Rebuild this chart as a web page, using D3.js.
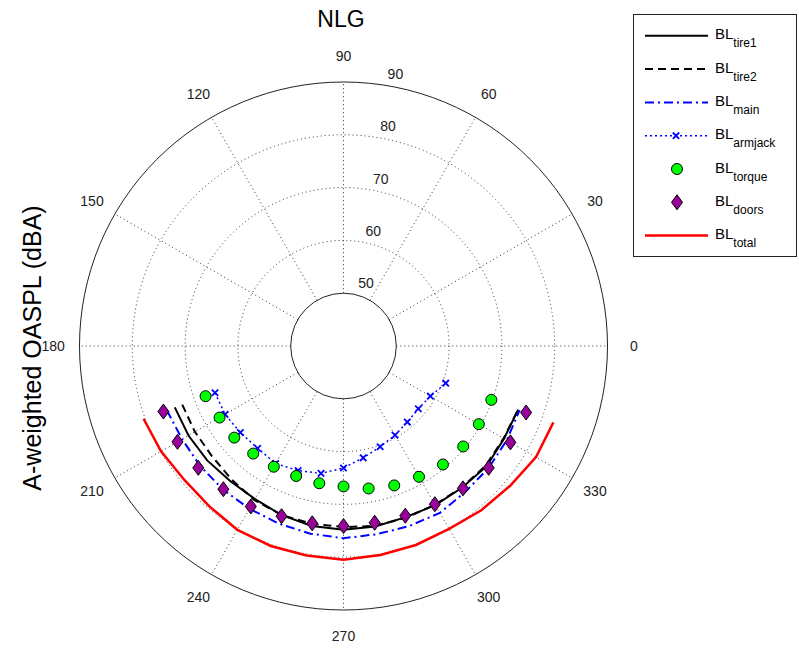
<!DOCTYPE html>
<html>
<head>
<meta charset="utf-8">
<script src="https://cdn.jsdelivr.net/npm/d3@7"></script>
<style>
  body { margin: 0; background: #fff; }
  svg { font-family: "Liberation Sans", Arial, sans-serif; }
</style>
</head>
<body>
<div id="chart"></div>
<script>
// directivity angles (deg) and levels (dBA)
const angles = [200, 210, 220, 230, 240, 250, 260, 270, 280, 290, 300, 310, 320, 330, 340];
const tire1 = [74.0, 73.9, 73.7, 73.4, 73.5, 74.1, 74.6, 74.8, 74.7, 74.5, 74.8, 75.0, 75.4, 75.1, 75.2];
const tire2 = [72.5, 72.5, 72.5, 73.0, 73.7, 74.1, 74.2, 74.3, 74.6, 74.6, 74.7, 74.9, 75.2, 75.0, 75.2];
const main = [75.6, 75.3, 75.4, 75.5, 75.6, 75.8, 76.1, 76.4, 76.2, 76.3, 76.5, 76.0, 75.9, 75.7, 75.5];
const armjack = [65.9, 65.9, 65.5, 65.3, 65.7, 65.1, 64.5, 63.1, 61.5, 60.3, 59.5, 58.8, 58.5, 59.0, 60.6];
const torque = [67.8, 67.1, 67.0, 66.6, 66.4, 66.2, 66.4, 66.6, 67.4, 68.1, 68.6, 69.3, 69.6, 69.6, 69.8];
const doors = [76.3, 76.3, 75.9, 75.4, 75.1, 74.3, 74.1, 74.1, 74.0, 74.2, 74.6, 75.2, 75.9, 76.5, 76.8];
const total = [80.3, 79.9, 79.4, 79.6, 80.2, 80.3, 80.3, 80.5, 80.2, 80.1, 80.0, 80.6, 81.2, 82.1, 82.3];

const ringTicks = [50, 60, 70, 80, 90];
const spokeTicks = [0, 30, 60, 90, 120, 150, 180, 210, 240, 270, 300, 330];
const legendNames = ["tire1", "tire2", "main", "armjack", "torque", "doors", "total"];

const width = 799, height = 653;
const cx = 343.5, cy = 346, R = 264;

const svg = d3.select("#chart").append("svg")
    .attr("width", width)
    .attr("height", height);

const r = d3.scaleLinear().domain([40, 90]).range([0, R]);
// math angle (ccw from +x) -> d3 radial angle (cw from 12 o'clock)
const toRad = (deg) => (90 - deg) * Math.PI / 180;
const px = (deg, rr) => rr * Math.cos(deg * Math.PI / 180);
const py = (deg, rr) => -rr * Math.sin(deg * Math.PI / 180);

const g = svg.append("g").attr("transform", `translate(${cx},${cy})`);

// outer circle
g.append("circle").attr("r", R).attr("fill", "#fff").attr("stroke", "#222").attr("stroke-width", 1);

// dotted rings
g.selectAll("circle.ring")
    .data(ringTicks.filter(v => v > 50 && v < 90))
    .join("circle")
    .attr("class", "ring")
    .attr("r", d => r(d))
    .attr("fill", "none")
    .attr("stroke", "#333")
    .attr("stroke-dasharray", "1,3");

// dotted spokes
g.selectAll("line.spoke")
    .data(spokeTicks)
    .join("line")
    .attr("class", "spoke")
    .attr("x1", d => px(d, r(50)))
    .attr("y1", d => py(d, r(50)))
    .attr("x2", d => px(d, R))
    .attr("y2", d => py(d, R))
    .attr("stroke", "#333")
    .attr("stroke-dasharray", "1,3");

// inner hole
g.append("circle").attr("r", r(50)).attr("fill", "#fff").attr("stroke", "#222");

// ring labels along 82 deg
g.selectAll("text.rlab")
    .data(ringTicks)
    .join("text")
    .attr("class", "rlab")
    .attr("x", d => px(82, r(d) + 2.6) + 7)
    .attr("y", d => py(82, r(d) + 2.6) - 3)
    .attr("font-size", 14)
    .attr("fill", "#222")
    .text(d => d);

// angle labels
g.selectAll("text.alab")
    .data(spokeTicks)
    .join("text")
    .attr("class", "alab")
    .attr("x", d => px(d, 1.1 * R))
    .attr("y", d => py(d, 1.1 * R))
    .attr("text-anchor", "middle")
    .attr("dy", "0.35em")
    .attr("font-size", 14)
    .attr("fill", "#222")
    .text(d => d);

const pts = (vals) => angles.map((a, i) => [a, vals[i]]);
const line = d3.lineRadial()
    .angle(d => toRad(d[0]))
    .radius(d => r(d[1]));

const series = [
    { vals: tire1, color: "#000", width: 2, dash: null },
    { vals: tire2, color: "#000", width: 2, dash: "8,5" },
    { vals: main, color: "#0000ff", width: 2, dash: "9,4,2,4" }
];
series.forEach(s => {
    g.append("path")
        .attr("d", line(pts(s.vals)))
        .attr("fill", "none")
        .attr("stroke", s.color)
        .attr("stroke-width", s.width)
        .attr("stroke-dasharray", s.dash);
});

// armjack: dotted blue with x markers
g.append("path")
    .attr("d", line(pts(armjack)))
    .attr("fill", "none")
    .attr("stroke", "#0000ff")
    .attr("stroke-width", 1.5)
    .attr("stroke-dasharray", "2,3");

const xMark = (sel, s) => sel.attr("d", `M${-s},${-s}L${s},${s}M${-s},${s}L${s},${-s}`)
    .attr("stroke", "#0000ff").attr("stroke-width", 1.8).attr("fill", "none");

g.selectAll("path.xm")
    .data(pts(armjack))
    .join("path")
    .attr("class", "xm")
    .attr("transform", d => `translate(${px(d[0], r(d[1]))},${py(d[0], r(d[1]))})`)
    .call(xMark, 3.2);

// torque: green circles
g.selectAll("circle.tq")
    .data(pts(torque))
    .join("circle")
    .attr("class", "tq")
    .attr("cx", d => px(d[0], r(d[1])))
    .attr("cy", d => py(d[0], r(d[1])))
    .attr("r", 5.5)
    .attr("fill", "#00ff00")
    .attr("stroke", "#000")
    .attr("stroke-width", 1);

// doors: purple diamonds
const diamond = "M0,-7.5L5.5,0L0,7.5L-5.5,0Z";
g.selectAll("path.dr")
    .data(pts(doors))
    .join("path")
    .attr("class", "dr")
    .attr("d", diamond)
    .attr("transform", d => `translate(${px(d[0], r(d[1]))},${py(d[0], r(d[1]))})`)
    .attr("fill", "#9a009a")
    .attr("stroke", "#000")
    .attr("stroke-width", 1);

// total: red
g.append("path")
    .attr("d", line(pts(total)))
    .attr("fill", "none")
    .attr("stroke", "#ff0000")
    .attr("stroke-width", 2.5);

// title
svg.append("text")
    .attr("x", 341).attr("y", 27)
    .attr("text-anchor", "middle")
    .attr("font-size", 23)
    .text("NLG");

// y label
svg.append("text")
    .attr("transform", "translate(41,348) rotate(-90)")
    .attr("text-anchor", "middle")
    .attr("font-size", 25)
    .text("A-weighted OASPL (dBA)");

// legend
const lg = svg.append("g");
lg.append("rect")
    .attr("x", 633.5).attr("y", 14.5)
    .attr("width", 163).attr("height", 242)
    .attr("fill", "#fff").attr("stroke", "#222");

legendNames.forEach((name, i) => {
    const by = 39.3 + 33.3 * i;
    const ly = by - 3.5;
    const row = lg.append("g");
    if (i < 3 || i === 6) {
        const s = i === 6 ? { color: "#ff0000", width: 2.5, dash: null } : series[i];
        row.append("line")
            .attr("x1", 645).attr("x2", 708).attr("y1", ly).attr("y2", ly)
            .attr("stroke", s.color).attr("stroke-width", s.width)
            .attr("stroke-dasharray", s.dash);
    } else if (i === 3) {
        row.append("line")
            .attr("x1", 645).attr("x2", 708).attr("y1", ly).attr("y2", ly)
            .attr("stroke", "#0000ff").attr("stroke-width", 1.5)
            .attr("stroke-dasharray", "2,3");
        row.append("path").attr("transform", `translate(676,${ly})`).call(xMark, 3.2);
    } else if (i === 4) {
        row.append("circle").attr("cx", 677).attr("cy", ly).attr("r", 5.5)
            .attr("fill", "#00ff00").attr("stroke", "#000");
    } else {
        row.append("path").attr("d", diamond).attr("transform", `translate(677,${ly})`)
            .attr("fill", "#9a009a").attr("stroke", "#000");
    }
    const t = row.append("text").attr("x", 715).attr("y", by).attr("font-size", 15);
    t.append("tspan").text("BL");
    t.append("tspan").attr("font-size", 12).attr("dy", 8).text(name);
});
</script>
</body>
</html>
